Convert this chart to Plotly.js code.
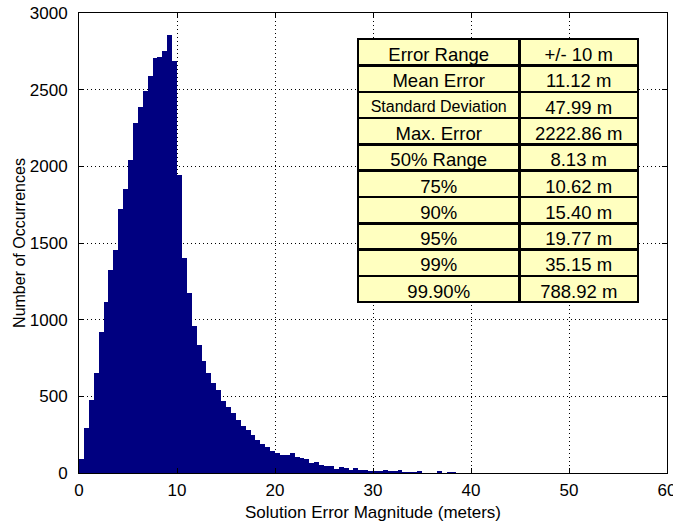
<!DOCTYPE html>
<html>
<head>
<meta charset="utf-8">
<script src="https://cdn.plot.ly/plotly-3.0.1.min.js"></script>
<style>
  html, body { margin: 0; padding: 0; background: #ffffff; }
  #chart { width: 673px; height: 527px; }
</style>
</head>
<body>
<div id="chart"></div>
<script>
// Histogram bins (meters)
const binStart = 0;
const binWidth = 0.5;
// Number of occurrences per 0.5 m bin, starting at 0 m
const counts = [90, 293, 475, 650, 920, 1113, 1326, 1457, 1722, 1852,
  2043, 2280, 2387, 2489, 2587, 2705, 2715, 2750, 2858, 2688,
  1946, 1402, 1174, 956, 837, 728, 652, 590, 540, 470,
  430, 390, 345, 305, 280, 250, 215, 190, 170, 145,
  130, 115, 120, 130, 104, 95, 90, 68, 70, 50,
  45, 43, 28, 38, 30, 22, 32, 22, 20, 16,
  10, 14, 17, 13, 14, 22, 8, 9, 8, 11,
  2, 1, 2, 15, 1, 8, 8, 2, 1];

// Statistics table
const statLabels = ['Error Range', 'Mean Error', 'Standard Deviation', 'Max. Error', '50% Range',
  '75%', '90%', '95%', '99%', '99.90%'];
const statValues = ['+/- 10 m', '11.12 m', '47.99 m', '2222.86 m', '8.13 m',
  '10.62 m', '15.40 m', '19.77 m', '35.15 m', '788.92 m'];

// Axis ticks
const xTicks = [0, 10, 20, 30, 40, 50, 60];
const yTicks = [0, 500, 1000, 1500, 2000, 2500, 3000];

const binCenters = counts.map((_, i) => binStart + binWidth * i + binWidth / 2);

const axisFont = '"Liberation Sans", Arial, sans-serif';
const tableFont = '"Liberation Sans", Arial, sans-serif';

const bars = {
  type: 'bar',
  x: binCenters,
  y: counts,
  width: binWidth,
  marker: { color: '#000080', line: { width: 0 } },
  hoverinfo: 'x+y',
  showlegend: false
};

const rowSizes = statLabels.slice(1).map(l => l === 'Standard Deviation' ? 16 : 18.5);
const valSizes = statValues.slice(1).map(() => 18.5);

const table = {
  type: 'table',
  domain: { x: [0.4745, 0.952], y: [0.30, 0.943] },
  columnwidth: [162, 119],
  header: {
    values: [statLabels[0], statValues[0]],
    align: 'center',
    height: 26.3,
    fill: { color: '#ffffc0' },
    line: { color: '#000000', width: 2.5 },
    font: { family: tableFont, size: 18.5, color: '#000000' }
  },
  cells: {
    values: [statLabels.slice(1), statValues.slice(1)],
    align: 'center',
    height: 26.3,
    fill: { color: '#ffffc0' },
    line: { color: '#000000', width: 2.5 },
    font: { family: tableFont, size: [rowSizes, valSizes], color: '#000000' }
  }
};

const axisCommon = {
  showline: true,
  linecolor: '#000000',
  linewidth: 1,
  mirror: 'ticks',
  ticks: 'inside',
  ticklen: 5,
  tickcolor: '#000000',
  showgrid: true,
  gridcolor: '#000000',
  gridwidth: 1,
  griddash: '1px,3px',
  zeroline: false,
  tickfont: { family: axisFont, size: 17, color: '#000000' },
  ticklabeloverflow: 'allow',
  automargin: false,
  fixedrange: true
};

const layout = {
  width: 673,
  height: 527,
  margin: { l: 79, r: 6, t: 13, b: 54, pad: 0 },
  paper_bgcolor: '#ffffff',
  plot_bgcolor: '#ffffff',
  bargap: 0,
  showlegend: false,
  xaxis: Object.assign({}, axisCommon, {
    range: [0, 60],
    tickvals: xTicks,
    ticktext: xTicks.map(String),
    ticklabelstandoff: 2,
    title: { text: 'Solution Error Magnitude (meters)', font: { family: axisFont, size: 17, color: '#000000' }, standoff: 6 }
  }),
  yaxis: Object.assign({}, axisCommon, {
    range: [0, 3000],
    tickvals: yTicks,
    ticktext: yTicks.map(String),
    ticklabelstandoff: 7,
    title: { text: 'Number of Occurrences', font: { family: axisFont, size: 16, color: '#000000' }, standoff: 0 }
  })
};

Plotly.newPlot('chart', [bars, table], layout, { displayModeBar: false, staticPlot: true });
</script>
</body>
</html>
